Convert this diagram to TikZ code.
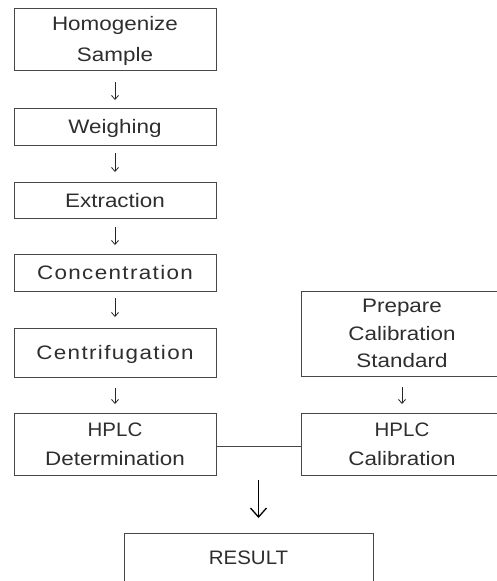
\documentclass[tikz,border=0pt]{standalone}
\usepackage{fontspec}
\setmainfont{Liberation Sans}[FakeStretch=1.15]
\newfontfamily\capsfont{Liberation Sans}[FakeStretch=1.05]
\usetikzlibrary{arrows.meta,calc}
\begin{document}
\begin{tikzpicture}[x=1pt,y=-1pt,
  box/.style={draw=black!72,line width=0.9pt,inner sep=0pt,outer sep=0pt,
    minimum width=202pt,align=center,text=black!82,text depth=0pt,
    font=\fontsize{19.5}{29}\selectfont},
  wide/.style={font=\fontsize{19.5}{29}\selectfont\addfontfeature{LetterSpace=7}},
  flow/.style={draw=black!85,line width=0.8pt,-{Straight Barb[length=4pt,width=7pt]},
    shorten <=9pt,shorten >=9pt},
  bigflow/.style={draw=black,line width=1.3pt,-{Straight Barb[length=9pt,width=16pt,line width=1.3pt]}},
  link/.style={draw=black!72,line width=0.9pt}]
\useasboundingbox (0,0) rectangle (497,581);
\clip (0,0) rectangle (497,581);
\node[box,minimum height=62pt,font=\fontsize{19.5}{31}\selectfont] (n1) at (115,39) {Homogenize\\Sample};
\node[box,minimum height=37pt] (n2) at (115,126.5) {Weighing};
\node[box,minimum height=36pt] (n3) at (115,200) {Extraction};
\node[box,wide,minimum height=37pt] (n4) at (115,272.5) {Concentration};
\node[box,wide,minimum height=49pt] (n5) at (115,352.5) {Centrifugation};
\node[box,minimum height=62pt] (n6) at (115,444) {{\capsfont HPLC}\\Determination};
\node[box,minimum height=85pt,font=\fontsize{19.5}{27.5}\selectfont] (p1) at (402,333.5) {Prepare\\Calibration\\Standard};
\node[box,minimum height=62pt] (p2) at (402,444) {{\capsfont HPLC}\\Calibration};
\node[box,minimum width=249pt,minimum height=49pt,font=\fontsize{19.5}{29}\capsfont] (res) at (248.5,557.5) {RESULT};
\draw[flow,shorten <=12pt,shorten >=8pt] (n1) -- (n2);
\draw[flow,shorten <=8pt,shorten >=10pt] (n2) -- (n3);
\draw[flow] (n3) -- (n4);
\draw[flow,shorten <=7pt,shorten >=11pt] (n4) -- (n5);
\draw[flow,shorten <=11pt,shorten >=9pt] (n5) -- (n6);
\draw[flow,shorten <=11pt,shorten >=9pt] (p1) -- (p2);
\draw[link] ([yshift=-2pt]n6.east) -- coordinate[pos=0.5] (m) ([yshift=-2pt]n6.east -| p2.west);
\draw[bigflow,shorten <=34pt,shorten >=15pt] (m) -- (m |- res.north);
\end{tikzpicture}
\end{document}
